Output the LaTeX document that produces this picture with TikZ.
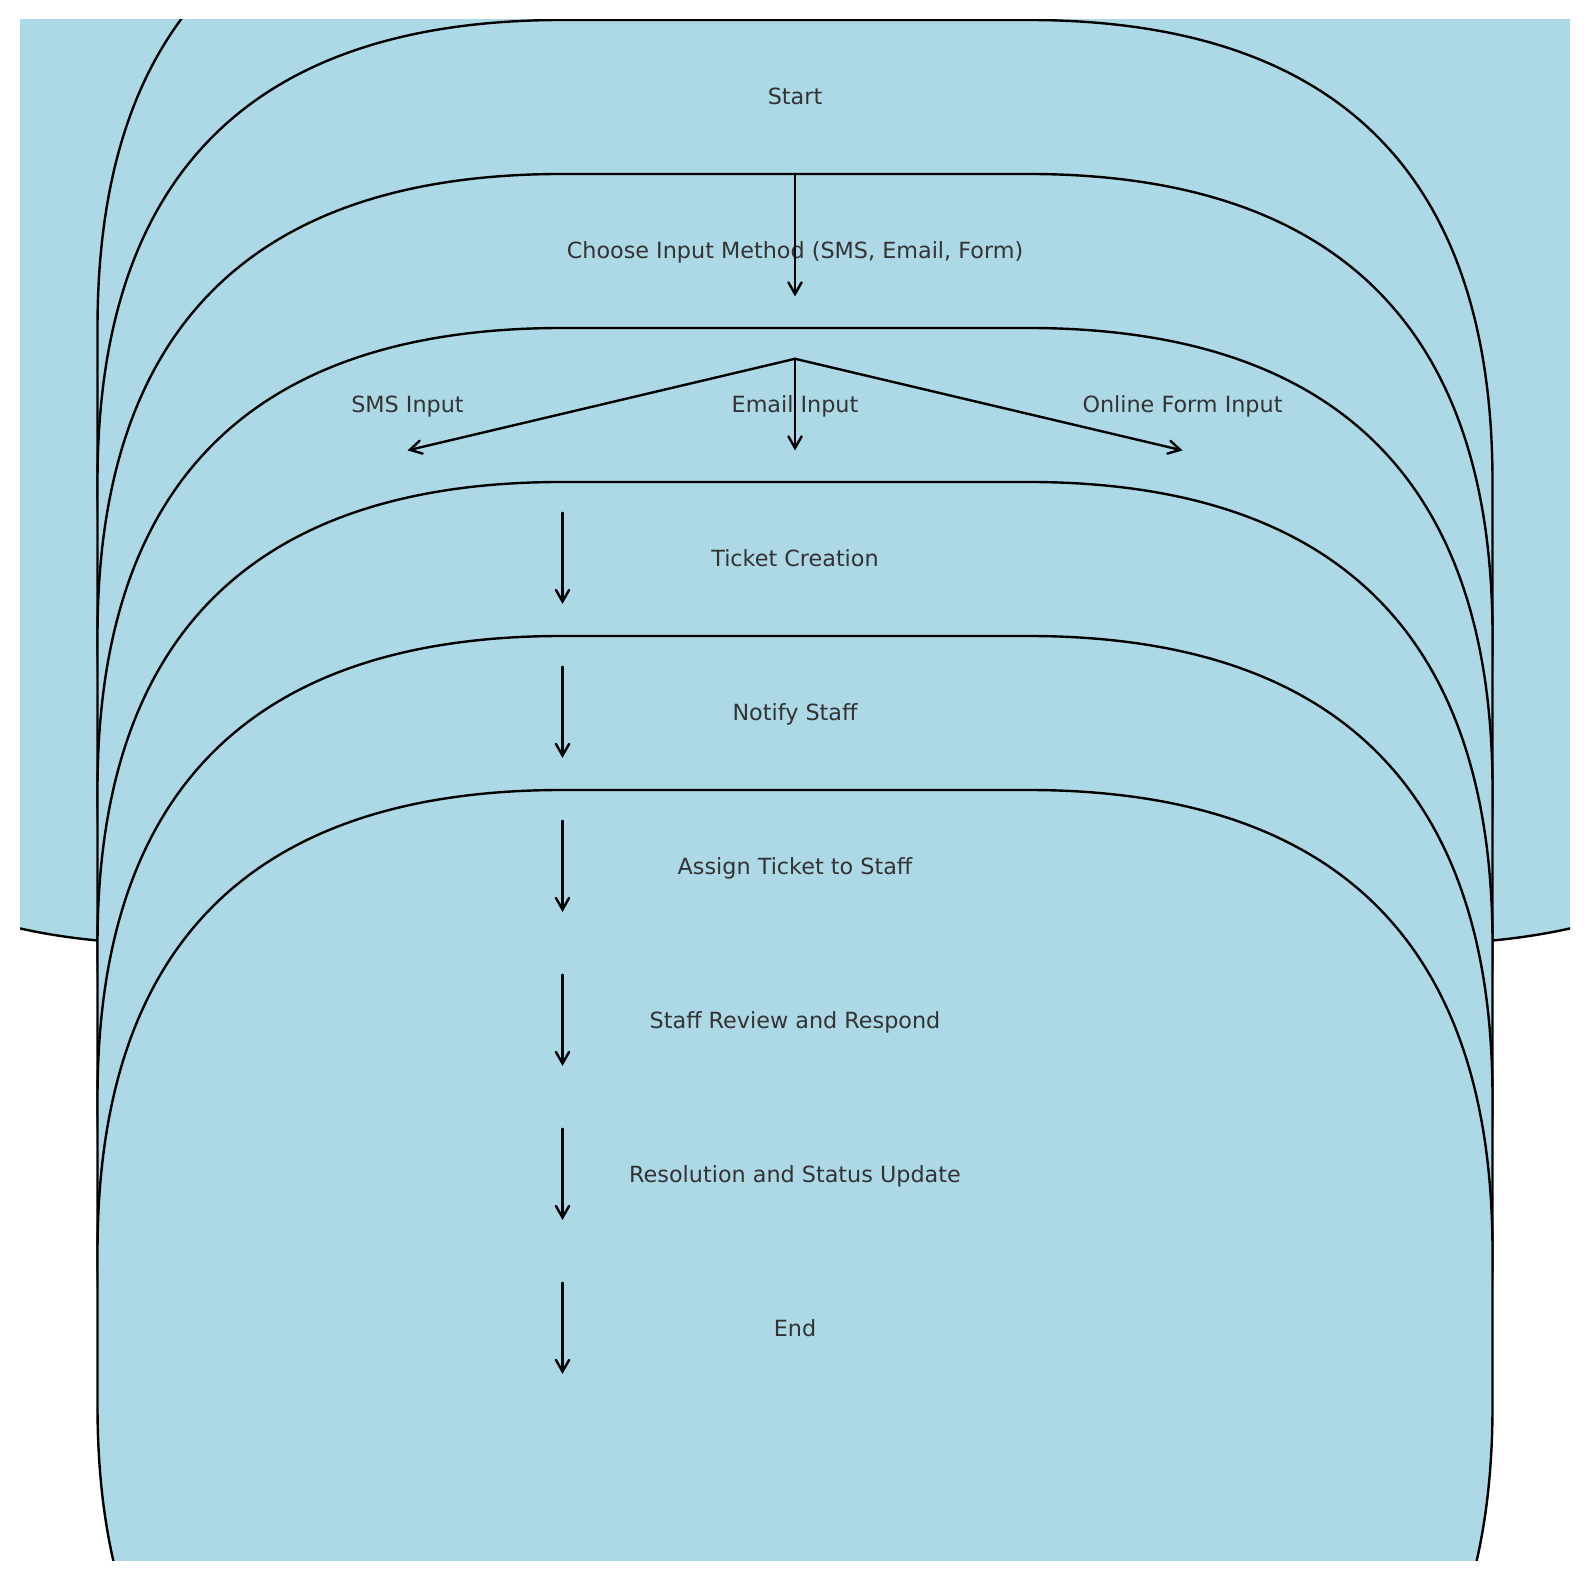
\documentclass[tikz,border=0pt]{standalone}
\usepackage{fontspec}
\setmainfont{DejaVu Sans}
\usetikzlibrary{arrows.meta}
\definecolor{boxfill}{HTML}{ADD8E6}
\definecolor{txtgray}{HTML}{333333}
\tikzset{
  roundbox/.style={draw=black, fill=boxfill, line width=1.2pt, line join=round},
  lbl/.style={text=txtgray, font=\fontsize{11.15pt}{13pt}\selectfont, inner sep=0pt,
              text height=0.76em, text depth=0.208em, anchor=center, yshift=-1pt},
  flow/.style={draw=black, line width=1.2pt, line cap=round,
               -{Straight Barb[length=5.8pt,width=6.6pt,line cap=round]}}
}
% matplotlib "round,pad=0.3" box around a 0.3 x 0.1 rectangle centred at (#1,#2)
\newcommand{\mplroundbox}[2]{%
  \begin{scope}[shift={(#1,#2)}]
    \path[roundbox] (-0.15,-0.35) -- (0.15,-0.35)
      .. controls (0.35,-0.35) and (0.45,-0.25) .. (0.45,-0.05) -- (0.45,0.05)
      .. controls (0.45,0.25) and (0.35,0.35) .. (0.15,0.35) -- (-0.15,0.35)
      .. controls (-0.35,0.35) and (-0.45,0.25) .. (-0.45,0.05) -- (-0.45,-0.05)
      .. controls (-0.45,-0.25) and (-0.35,-0.35) .. (-0.15,-0.35) -- cycle;
  \end{scope}}
\begin{document}
\begin{tikzpicture}[x=775pt,y=770pt]
  \fill[white] (-10pt,-10pt) rectangle (784.5pt,780pt);
  \useasboundingbox (-10pt,-10pt) rectangle (784.5pt,780pt);
  \begin{scope}
    \clip (0,0) rectangle (1,1);
    \mplroundbox{0.5}{0.95}
    \mplroundbox{0.5}{0.85}
    \mplroundbox{0.25}{0.75}
    \mplroundbox{0.5}{0.75}
    \mplroundbox{0.75}{0.75}
    \mplroundbox{0.5}{0.65}
    \mplroundbox{0.5}{0.55}
    \mplroundbox{0.5}{0.45}
    \mplroundbox{0.5}{0.35}
    \mplroundbox{0.5}{0.25}
    \mplroundbox{0.5}{0.15}
  \end{scope}
  % labels
  \node[lbl] (start)  at (0.5,0.95) {Start};
  \node[lbl] (choose) at (0.5,0.85) {Choose Input Method (SMS, Email, Form)};
  \node[lbl] (sms)    at (0.25,0.75) {SMS Input};
  \node[lbl] (email)  at (0.5,0.75) {Email Input};
  \node[lbl] (form)   at (0.75,0.75) {Online Form Input};
  \node[lbl] (ticket) at (0.5,0.65) {Ticket Creation};
  \node[lbl] (notify) at (0.5,0.55) {Notify Staff};
  \node[lbl] (assign) at (0.5,0.45) {Assign Ticket to Staff};
  \node[lbl] (review) at (0.5,0.35) {Staff Review and Respond};
  \node[lbl] (resol)  at (0.5,0.25) {Resolution and Status Update};
  \node[lbl] (endn)   at (0.5,0.15) {End};
  % arrow end points
  \coordinate (s1) at (0.5,0.9);    \coordinate (e1) at (0.5,0.8205);
  \coordinate (br) at (0.5,0.78);
  \coordinate (tsms) at (0.25,0.7205);
  \coordinate (temail) at (0.5,0.7205);
  \coordinate (tform) at (0.75,0.7205);
  \coordinate (s2) at (0.35,0.68); \coordinate (e2) at (0.35,0.6208);
  \coordinate (s3) at (0.35,0.58); \coordinate (e3) at (0.35,0.5208);
  \coordinate (s4) at (0.35,0.48); \coordinate (e4) at (0.35,0.4208);
  \coordinate (s5) at (0.35,0.38); \coordinate (e5) at (0.35,0.3208);
  \coordinate (s6) at (0.35,0.28); \coordinate (e6) at (0.35,0.2208);
  \coordinate (s7) at (0.35,0.18); \coordinate (e7) at (0.35,0.1208);
  % connectors
  \draw[flow] (s1) -- (e1);
  \draw[flow] (br) -- (tsms);
  \draw[flow] (br) -- (temail);
  \draw[flow] (br) -- (tform);
  \draw[flow] (s2) -- (e2);
  \draw[flow] (s3) -- (e3);
  \draw[flow] (s4) -- (e4);
  \draw[flow] (s5) -- (e5);
  \draw[flow] (s6) -- (e6);
  \draw[flow] (s7) -- (e7);
\end{tikzpicture}
\end{document}
